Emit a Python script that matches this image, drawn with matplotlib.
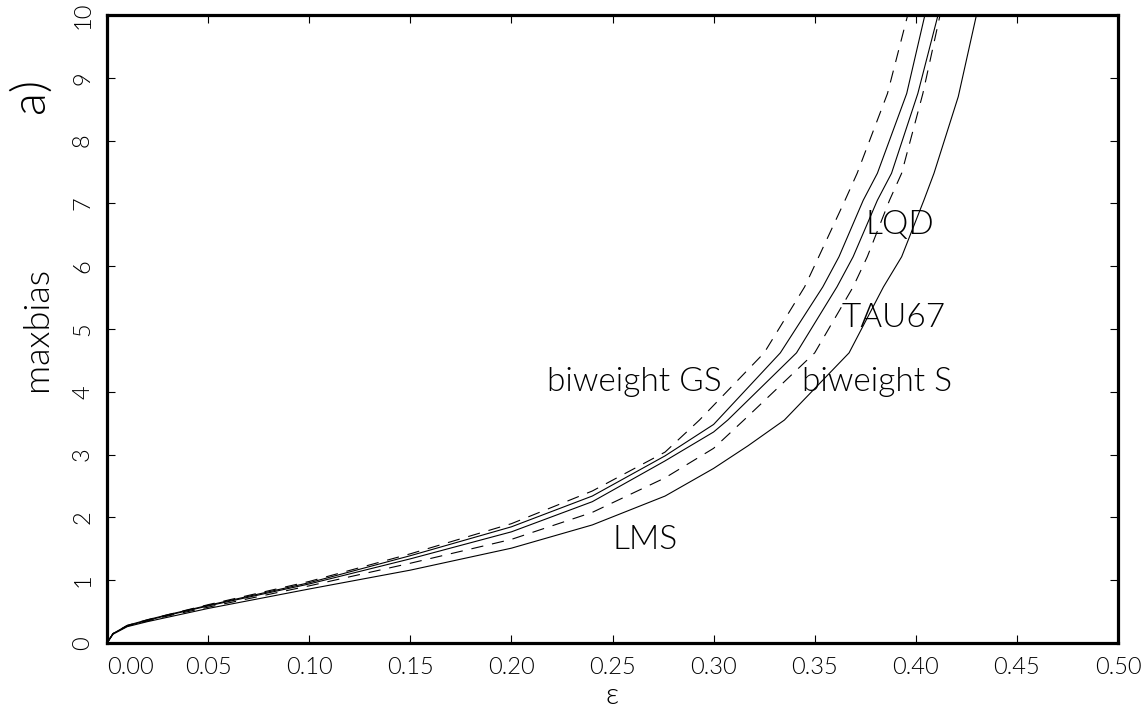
import numpy as np
import matplotlib
matplotlib.use("Agg")
import matplotlib.pyplot as plt

plt.rcParams["font.family"] = ["Lato", "DejaVu Sans"]
plt.rcParams["font.weight"] = 300
plt.rcParams["axes.labelweight"] = 300

# maxbias curves (eps, maxbias)
eps_gs = [0, .003, .01, .02, .03, .05, .10, .15, .20, .24, .276, .293, .325, .345, .352, .365, .371, .386, .396]
bias_gs = [0, .15, .28, .37, .45, .61, .98, 1.42, 1.90, 2.42, 3.04, 3.55, 4.62, 5.67, 6.15, 7.05, 7.48, 8.75, 10]

eps_lqd = [0, .003, .01, .02, .03, .05, .10, .15, .20, .24, .276, .300, .333, .354, .362, .374, .381, .3955, .4045]
bias_lqd = [0, .15, .28, .37, .45, .60, .96, 1.39, 1.85, 2.34, 2.98, 3.48, 4.62, 5.67, 6.15, 7.05, 7.48, 8.75, 10]

eps_tau = [0, .003, .01, .02, .03, .05, .10, .15, .20, .24, .276, .300, .307, .341, .361, .369, .381, .388, .401, .411]
bias_tau = [0, .15, .27, .36, .44, .59, .94, 1.34, 1.77, 2.25, 2.90, 3.36, 3.55, 4.62, 5.67, 6.15, 7.05, 7.48, 8.75, 10]

eps_bs = [0, .003, .01, .02, .03, .05, .10, .15, .20, .24, .276, .300, .315, .350, .369, .376, .387, .393, .4035, .412]
bias_bs = [0, .15, .27, .35, .43, .57, .91, 1.27, 1.65, 2.08, 2.63, 3.10, 3.55, 4.62, 5.67, 6.15, 7.05, 7.48, 8.75, 10]

eps_lms = [0, .003, .01, .02, .03, .05, .10, .15, .20, .24, .276, .300, .317, .335, .367, .384, .393, .404, .409, .421, .430]
bias_lms = [0, .14, .26, .34, .41, .55, .86, 1.16, 1.51, 1.88, 2.34, 2.78, 3.14, 3.55, 4.62, 5.67, 6.15, 7.05, 7.48, 8.70, 10]

xticks = [0.00, 0.05, 0.10, 0.15, 0.20, 0.25, 0.30, 0.35, 0.40, 0.45, 0.50]
yticks = list(range(0, 11))

fig = plt.figure(figsize=(11.47, 7.25), dpi=100)
ax = fig.add_axes([107/1147, 82/725, 1011/1147, 628/725])

dash = (0, (11, 8))
ax.plot(eps_gs, bias_gs, color="k", lw=0.8, linestyle=dash)
ax.plot(eps_lqd, bias_lqd, color="k", lw=0.8)
ax.plot(eps_tau, bias_tau, color="k", lw=0.8)
ax.plot(eps_bs, bias_bs, color="k", lw=0.8, linestyle=dash)
ax.plot(eps_lms, bias_lms, color="k", lw=0.8)

ax.set_xlim(0, 0.5)
ax.set_ylim(0, 10)
for s in ax.spines.values():
    s.set_linewidth(2.3)

ax.set_xticks(xticks)
ax.set_xticklabels(["%.2f" % v for v in xticks])
ax.set_yticks(yticks)
ax.set_yticklabels([str(v) for v in yticks], rotation=90, va="center")
ax.tick_params(direction="in", length=6, width=0.8, top=True, right=True,
               labelsize=17, pad=10)
ax.get_xticklabels()[0].set_horizontalalignment("left")

ax.set_xlabel("ε", fontsize=21, labelpad=4, fontweight=300)
ax.set_ylabel("maxbias", fontsize=26, labelpad=14, fontweight=300)

txt = dict(fontsize=24, ha="center", va="center", fontweight=300)
ax.text(0.392, 6.66, "LQD", **txt)
ax.text(0.389, 5.18, "TAU67", **txt)
ax.text(0.2606, 4.16, "biweight GS", **txt)
ax.text(0.381, 4.16, "biweight S", **txt)
ax.text(0.266, 1.64, "LMS", **txt)

fig.text(30/1147, 1 - 95/725, "a)", fontsize=34, rotation=90, ha="center",
         va="center", fontweight=300)

fig.savefig("out.png", dpi=100)
